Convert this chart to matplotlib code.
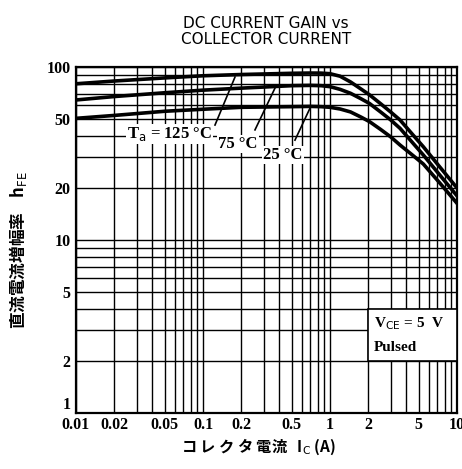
import matplotlib
matplotlib.use("Agg")
import matplotlib.pyplot as plt
from matplotlib.patches import Rectangle

# collector current (A) and hFE
ic = [0.01, 0.02, 0.05, 0.1, 0.2, 0.5, 0.7, 0.85, 1.0, 1.2, 1.45, 1.75, 2.05, 2.5, 3.0, 3.56, 4.5, 5.43, 7.3, 10.0]
hfe_125 = [80, 83, 86.5, 89, 90.5, 92, 92.3, 92.2, 91.5, 88.5, 82, 74.7, 69, 61.4, 55, 49.4, 40.5, 34.6, 26.5, 20]
hfe_75 = [64.5, 67.5, 71, 73.5, 75.5, 78, 78.3, 78, 77, 74.3, 70.5, 65.6, 61.5, 55, 49.5, 44.2, 36.3, 31, 23.8, 18]
hfe_25 = [50.5, 52.5, 55.5, 57, 58.5, 59, 59.2, 59, 58.5, 57.2, 55, 51.4, 48.3, 43.6, 39.5, 35.4, 30.8, 27.5, 21.4, 16.3]

xticks = [0.01, 0.02, 0.05, 0.1, 0.2, 0.5, 1, 2, 5, 10]
xticklabels = ["0.01", "0.02", "0.05", "0.1", "0.2", "0.5", "1", "2", "5", "10"]
yticks = [1, 2, 5, 10, 20, 50, 100]
yticklabels = ["1", "2", "5", "10", "20", "50", "100"]

cjk = ["Noto Sans CJK JP", "DejaVu Sans"]
serif = "Liberation Serif"

fig = plt.figure(figsize=(4.62, 4.69), dpi=100)
ax = fig.add_axes([0.1645, 0.1194, 0.8247, 0.7377])
ax.set_xscale("log")
ax.set_yscale("log")
ax.set_xlim(0.01, 10)
ax.set_ylim(1, 100)

ax.grid(which="both", color="black", lw=1.0)
ax.set_axisbelow(True)
for s in ax.spines.values():
    s.set_linewidth(1.6)

ax.set_xticks(xticks)
ax.set_xticklabels(xticklabels)
ax.set_yticks(yticks)
ax.set_yticklabels(yticklabels)
ax.tick_params(which="both", length=0)
ax.tick_params(axis="x", pad=3)
ax.tick_params(axis="y", pad=4)
for lab in ax.get_xticklabels() + ax.get_yticklabels():
    lab.set_family(serif)
    lab.set_fontweight("bold")
    lab.set_fontsize(11.5)
# the "1" sits just above the axis line, clear of "0.01"
ax.get_yticklabels()[0].set_verticalalignment("bottom")

for h in (hfe_125, hfe_75, hfe_25):
    ax.plot(ic, h, color="black", lw=2.6, zorder=3)

# temperature labels with leader lines
box = dict(facecolor="white", edgecolor="none", pad=1)
ax.text(0.0252, 41.0, "T$_\\mathrm{a}$ = 125 °C", family=serif, fontweight="bold",
        fontsize=12, ha="left", va="center", bbox=box, zorder=4)
ax.text(0.131, 35.9, "75 °C", family=serif, fontweight="bold",
        fontsize=12, ha="left", va="center", bbox=box, zorder=4)
ax.text(0.296, 31.0, "25 °C", family=serif, fontweight="bold",
        fontsize=12, ha="left", va="center", bbox=box, zorder=4)
ax.plot([0.1243, 0.1786], [46.2, 87.5], color="black", lw=1.2, zorder=4)
ax.plot([0.2566, 0.369], [43.3, 75.6], color="black", lw=1.2, zorder=4)
ax.plot([0.530, 0.697], [37.8, 58.0], color="black", lw=1.2, zorder=4)

# condition box
ax.add_patch(Rectangle((2, 2), 8, 2, facecolor="white", edgecolor="black", lw=1.2, zorder=4))
ax.text(2.22, 3.3, "V$_\\mathrm{CE}$ = 5  V", family=serif, fontweight="bold",
        fontsize=11, ha="left", va="center", zorder=5)
ax.text(2.22, 2.4, "Pulsed", family=serif, fontweight="bold",
        fontsize=11, ha="left", va="center", zorder=5)

fig.text(0.575, 0.965, "DC CURRENT GAIN vs\nCOLLECTOR CURRENT", ha="center", va="top",
         fontsize=11, family="DejaVu Sans", linespacing=1.05)
fig.text(0.56, 0.048, "コ レ ク タ 電流   I$_\\mathrm{C}$ (A)", ha="center", va="center",
         fontsize=11, family=cjk, fontweight="bold")
fig.text(0.04, 0.467, "直流電流増幅率    h$_\\mathrm{FE}$", ha="center", va="center",
         rotation=90, fontsize=12, family=cjk, fontweight="bold")

fig.savefig("out.png", dpi=100)
